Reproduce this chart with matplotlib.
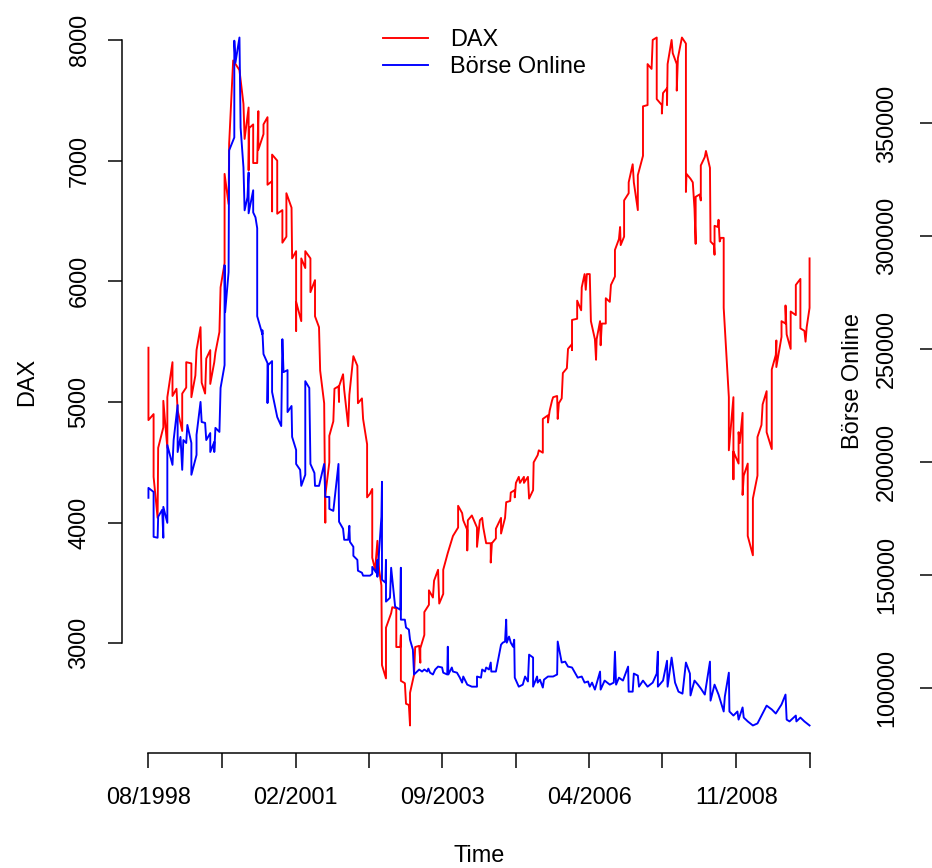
import matplotlib
matplotlib.use('Agg')
import matplotlib.pyplot as plt
from matplotlib.lines import Line2D

plt.rcParams['font.family'] = ['Liberation Sans', 'DejaVu Sans']

# DAX index (left axis), time in decimal years
dax_time = [
    1998.58, 1998.58, 1998.67, 1998.67, 1998.74, 1998.75, 1998.84, 1998.84, 1998.91, 1998.91,
    1999.00, 1999.00, 1999.07, 1999.09, 1999.17, 1999.17, 1999.24, 1999.24, 1999.33, 1999.33,
    1999.40, 1999.42, 1999.49, 1999.51, 1999.57, 1999.59, 1999.66, 1999.66, 1999.73, 1999.75,
    1999.82, 1999.84, 1999.91, 1999.91, 1999.98, 1999.99, 2000.06, 2000.17, 2000.24, 2000.26,
    2000.33, 2000.33, 2000.34, 2000.41, 2000.41, 2000.48, 2000.50, 2000.50, 2000.59, 2000.59,
    2000.66, 2000.66, 2000.74, 2000.74, 2000.74, 2000.83, 2000.83, 2000.92, 2000.92, 2000.99,
    2000.99, 2001.08, 2001.09, 2001.16, 2001.16, 2001.16, 2001.25, 2001.25, 2001.32, 2001.32,
    2001.41, 2001.41, 2001.49, 2001.49, 2001.56, 2001.58, 2001.65, 2001.67, 2001.67, 2001.74,
    2001.74, 2001.81, 2001.83, 2001.90, 2001.91, 2001.91, 2001.98, 2002.00, 2002.07, 2002.09,
    2002.16, 2002.23, 2002.24, 2002.31, 2002.33, 2002.40, 2002.40, 2002.45, 2002.49, 2002.49,
    2002.54, 2002.58, 2002.61, 2002.65, 2002.66, 2002.73, 2002.73, 2002.82, 2002.84, 2002.91,
    2002.91, 2002.98, 2002.99, 2002.99, 2003.06, 2003.08, 2003.13, 2003.15, 2003.15, 2003.22,
    2003.24, 2003.31, 2003.33, 2003.33, 2003.40, 2003.40, 2003.48, 2003.48, 2003.55, 2003.57,
    2003.64, 2003.66, 2003.73, 2003.73, 2003.81, 2003.90, 2003.99, 2003.99, 2004.06, 2004.08,
    2004.15, 2004.15, 2004.16, 2004.23, 2004.32, 2004.32, 2004.37, 2004.41, 2004.43, 2004.48,
    2004.56, 2004.56, 2004.58, 2004.65, 2004.65, 2004.74, 2004.74, 2004.81, 2004.83, 2004.90,
    2004.91, 2004.98, 2004.98, 2005.00, 2005.05, 2005.07, 2005.14, 2005.14, 2005.21, 2005.23,
    2005.30, 2005.31, 2005.38, 2005.40, 2005.47, 2005.47, 2005.56, 2005.56, 2005.59, 2005.63,
    2005.65, 2005.72, 2005.73, 2005.75, 2005.80, 2005.82, 2005.89, 2005.91, 2005.98, 2005.98,
    2005.98, 2006.07, 2006.07, 2006.14, 2006.15, 2006.20, 2006.22, 2006.24, 2006.29, 2006.31,
    2006.38, 2006.40, 2006.41, 2006.47, 2006.48, 2006.50, 2006.57, 2006.57, 2006.64, 2006.66,
    2006.73, 2006.73, 2006.80, 2006.82, 2006.83, 2006.89, 2006.89, 2006.97, 2006.97, 2007.04,
    2007.06, 2007.13, 2007.13, 2007.22, 2007.22, 2007.30, 2007.30, 2007.37, 2007.39, 2007.46,
    2007.46, 2007.55, 2007.55, 2007.57, 2007.64, 2007.64, 2007.65, 2007.72, 2007.74, 2007.81,
    2007.81, 2007.83, 2007.90, 2007.97, 2007.97, 2007.98, 2008.05, 2008.09, 2008.12, 2008.14,
    2008.14, 2008.21, 2008.23, 2008.23, 2008.30, 2008.32, 2008.39, 2008.40, 2008.46, 2008.47,
    2008.47, 2008.53, 2008.54, 2008.56, 2008.58, 2008.63, 2008.63, 2008.63, 2008.72, 2008.72,
    2008.80, 2008.80, 2008.80, 2008.89, 2008.89, 2008.91, 2008.96, 2008.96, 2008.98, 2009.05,
    2009.05, 2009.14, 2009.14, 2009.22, 2009.22, 2009.29, 2009.31, 2009.38, 2009.38, 2009.47,
    2009.47, 2009.54, 2009.55, 2009.55, 2009.64, 2009.64, 2009.71, 2009.71, 2009.73, 2009.80,
    2009.80, 2009.89, 2009.89, 2009.97, 2009.97, 2010.04, 2010.06, 2010.08, 2010.13, 2010.13,
]
dax_value = [
    5450, 4850, 4900, 4380, 4040, 4620, 4790, 5010, 4620, 5040,
    5330, 5050, 5110, 4930, 4760, 5070, 5120, 5330, 5320, 5040,
    5220, 5430, 5620, 5160, 5070, 5360, 5430, 5150, 5330, 5410,
    5580, 5950, 6150, 6890, 6640, 7140, 7830, 7750, 7470, 7180,
    7440, 6920, 7270, 7300, 6980, 6980, 7410, 7090, 7220, 7300,
    7360, 6800, 6830, 6580, 7050, 7000, 6560, 6590, 6320, 6370,
    6730, 6610, 6190, 6250, 5590, 5830, 5670, 6190, 6110, 6250,
    6190, 5910, 6010, 5710, 5620, 5260, 4990, 4000, 4230, 4500,
    4720, 4840, 5110, 5130, 5000, 5130, 5230, 5100, 4800, 5060,
    5380, 5300, 4990, 5030, 4860, 4650, 4210, 4240, 4280, 3710,
    3610, 3850, 3610, 3480, 2820, 2710, 3130, 3250, 3300, 3290,
    2970, 2970, 3070, 2690, 2670, 2500, 2490, 2320, 2590, 2740,
    2970, 2980, 2840, 2960, 3070, 3260, 3320, 3440, 3380, 3520,
    3610, 3330, 3410, 3610, 3750, 3890, 3960, 4140, 4080, 4020,
    3940, 3770, 4020, 4060, 3960, 3800, 4020, 4040, 3960, 3830,
    3830, 3670, 3830, 3870, 3950, 4040, 3910, 4040, 4170, 4180,
    4250, 4270, 4210, 4330, 4380, 4330, 4380, 4330, 4380, 4200,
    4270, 4500, 4560, 4600, 4580, 4860, 4890, 4830, 4930, 5010,
    5040, 5050, 4860, 4990, 5030, 5240, 5280, 5440, 5480, 5430,
    5680, 5690, 5840, 5760, 5950, 6060, 5930, 6060, 6060, 5670,
    5520, 5350, 5520, 5670, 5470, 5650, 5650, 5860, 5830, 5970,
    6040, 6260, 6350, 6450, 6300, 6370, 6670, 6730, 6820, 6970,
    6820, 6590, 6880, 7040, 7450, 7460, 7800, 7760, 8000, 8020,
    7510, 7460, 7390, 7560, 7600, 7460, 7800, 8000, 7890, 7800,
    7580, 7850, 8020, 7970, 6740, 6890, 6850, 6820, 6600, 6310,
    6700, 6720, 6670, 6960, 7030, 7080, 6940, 6330, 6300, 6220,
    6460, 6450, 6510, 6330, 6360, 6360, 5990, 5780, 5040, 4600,
    5040, 4360, 4590, 4490, 4750, 4660, 4910, 4230, 4390, 4490,
    3890, 3730, 4200, 4390, 4710, 4810, 4980, 5090, 4750, 4610,
    5270, 5390, 5510, 5290, 5540, 5670, 5650, 5800, 5560, 5440,
    5750, 5720, 5970, 6020, 5610, 5590, 5500, 5620, 5780, 6190,
]

# Boerse Online (right axis)
bo_time = [
    1998.58, 1998.58, 1998.67, 1998.67, 1998.74, 1998.75, 1998.82, 1998.84, 1998.84, 1998.91,
    1998.91, 1999.00, 1999.02, 1999.09, 1999.09, 1999.14, 1999.17, 1999.19, 1999.24, 1999.26,
    1999.33, 1999.33, 1999.42, 1999.42, 1999.49, 1999.51, 1999.57, 1999.59, 1999.66, 1999.66,
    1999.73, 1999.73, 1999.75, 1999.82, 1999.84, 1999.91, 1999.91, 1999.92, 1999.98, 1999.99,
    2000.08, 2000.08, 2000.10, 2000.17, 2000.19, 2000.24, 2000.26, 2000.31, 2000.33, 2000.33,
    2000.41, 2000.41, 2000.45, 2000.48, 2000.48, 2000.57, 2000.57, 2000.59, 2000.66, 2000.66,
    2000.67, 2000.74, 2000.74, 2000.83, 2000.90, 2000.92, 2000.94, 2001.01, 2001.01, 2001.08,
    2001.09, 2001.16, 2001.16, 2001.23, 2001.25, 2001.32, 2001.32, 2001.39, 2001.41, 2001.48,
    2001.49, 2001.56, 2001.65, 2001.67, 2001.74, 2001.74, 2001.81, 2001.90, 2001.91, 2001.98,
    2002.00, 2002.07, 2002.09, 2002.10, 2002.16, 2002.16, 2002.23, 2002.24, 2002.31, 2002.33,
    2002.45, 2002.49, 2002.49, 2002.56, 2002.58, 2002.58, 2002.65, 2002.66, 2002.66, 2002.72,
    2002.73, 2002.73, 2002.80, 2002.82, 2002.89, 2002.92, 2002.98, 2002.99, 2002.99, 2003.06,
    2003.08, 2003.13, 2003.15, 2003.20, 2003.22, 2003.31, 2003.36, 2003.40, 2003.45, 2003.47,
    2003.50, 2003.55, 2003.59, 2003.64, 2003.71, 2003.73, 2003.80, 2003.81, 2003.82, 2003.88,
    2003.90, 2003.97, 2004.02, 2004.06, 2004.08, 2004.15, 2004.23, 2004.32, 2004.32, 2004.39,
    2004.41, 2004.46, 2004.48, 2004.53, 2004.56, 2004.57, 2004.65, 2004.74, 2004.77, 2004.81,
    2004.83, 2004.84, 2004.88, 2004.91, 2004.95, 2004.97, 2004.98, 2005.05, 2005.12, 2005.16,
    2005.21, 2005.23, 2005.30, 2005.30, 2005.37, 2005.38, 2005.42, 2005.47, 2005.49, 2005.56,
    2005.65, 2005.72, 2005.73, 2005.80, 2005.86, 2005.91, 2005.98, 2006.03, 2006.08, 2006.15,
    2006.20, 2006.26, 2006.29, 2006.33, 2006.38, 2006.47, 2006.48, 2006.55, 2006.64, 2006.71,
    2006.73, 2006.75, 2006.80, 2006.87, 2006.96, 2006.97, 2007.04, 2007.06, 2007.13, 2007.15,
    2007.22, 2007.30, 2007.39, 2007.46, 2007.48, 2007.48, 2007.57, 2007.64, 2007.65, 2007.72,
    2007.78, 2007.84, 2007.91, 2007.97, 2008.04, 2008.05, 2008.12, 2008.18, 2008.23, 2008.30,
    2008.39, 2008.40, 2008.47, 2008.54, 2008.63, 2008.65, 2008.72, 2008.73, 2008.80, 2008.87,
    2008.89, 2008.96, 2008.98, 2009.05, 2009.14, 2009.22, 2009.29, 2009.38, 2009.47, 2009.54,
    2009.64, 2009.71, 2009.73, 2009.78, 2009.89, 2009.90, 2009.97, 2010.04, 2010.13,
]
bo_value = [
    184100, 188500, 186700, 166800, 166400, 175700, 178800, 166400, 180100, 173000,
    207500, 198700, 209700, 225200, 204400, 211100, 196500, 209700, 208400, 216400,
    208400, 194300, 203100, 212000, 226600, 217700, 217300, 209700, 212800, 204400,
    208900, 204400, 215100, 213300, 232800, 242900, 287200, 266400, 284100, 338100,
    343800, 386700, 377000, 388100, 348200, 330500, 311500, 317300, 328300, 310200,
    320400, 310600, 308400, 303600, 264600, 256600, 258400, 247800, 243800, 226100,
    242900, 244700, 231000, 219900, 215900, 254400, 239800, 240700, 222100, 224800,
    211100, 205300, 199100, 196500, 189400, 194300, 235800, 232800, 199100, 195100,
    189400, 189400, 199100, 184500, 184500, 179200, 178300, 199100, 173500, 170400,
    165500, 165500, 171700, 164600, 162400, 158400, 156600, 151800, 150900, 149600,
    149600, 150400, 153500, 150900, 156600, 149100, 175700, 191200, 147800, 146500,
    156600, 138100, 139800, 153100, 135800, 135400, 134500, 153100, 130100, 130100,
    126600, 125700, 121200, 116800, 105800, 108000, 107100, 108000, 107100, 108400,
    106600, 105800, 108000, 109300, 108900, 106600, 105800, 118100, 105800, 108900,
    107100, 106600, 104400, 102200, 104900, 101300, 100400, 100400, 104900, 104400,
    108000, 107100, 108900, 108000, 111100, 107100, 107100, 119000, 119900, 120400,
    130100, 119900, 122600, 119900, 118100, 121200, 104400, 100400, 101300, 104900,
    102700, 114600, 113300, 100400, 104900, 102200, 103500, 100000, 103500, 104900,
    104900, 105800, 120400, 111100, 111500, 109300, 108900, 106600, 104400, 104900,
    102200, 102700, 100400, 102200, 99100, 107100, 99100, 103100, 101300, 102200,
    115900, 101300, 104400, 103100, 109300, 98200, 98200, 106200, 105300, 100400,
    103100, 100400, 102200, 106200, 115900, 100400, 103100, 111900, 100400, 113300,
    102200, 98200, 97300, 111100, 106200, 96500, 103100, 101300, 99600, 96900,
    111500, 94200, 101300, 96900, 89400, 96000, 106600, 89400, 87600, 89400,
    85800, 91200, 86700, 85000, 83200, 84100, 87600, 92000, 90300, 88500,
    92500, 96900, 85800, 85000, 87600, 85000, 86700, 85000, 83200,
]

tick_pos = [1998.58, 1999.86, 2001.15, 2002.43, 2003.71, 2005.00, 2006.28, 2007.56, 2008.85, 2010.13]
tick_labels = ['08/1998', '', '02/2001', '', '09/2003', '', '04/2006', '', '11/2008', '']
dax_ticks = [3000, 4000, 5000, 6000, 7000, 8000]
bo_ticks = [100000, 150000, 200000, 250000, 300000, 350000]

FS = 23.5
LW = 1.9


def r_range(values):
    # R style axis range: data range widened by 4 % on each side
    lo, hi = min(values), max(values)
    pad = 0.04 * (hi - lo)
    return lo - pad, hi + pad


fig = plt.figure(figsize=(932 / 72, 868 / 72), dpi=72)
ax = fig.add_axes([122 / 932, 115 / 868, 714 / 932, 743 / 868])

ax.plot(dax_time, dax_value, color='#ff0000', lw=LW)
ax.set_xlim(r_range(dax_time + bo_time))
ax.set_ylim(r_range(dax_value))

for s in ['top', 'right']:
    ax.spines[s].set_visible(False)
ax.spines['left'].set_bounds(dax_ticks[0], dax_ticks[-1])
ax.spines['bottom'].set_bounds(tick_pos[0], tick_pos[-1])
ax.spines['left'].set_linewidth(1.5)
ax.spines['bottom'].set_linewidth(1.5)

ax.set_xticks(tick_pos, tick_labels)
ax.set_yticks(dax_ticks)
ax.tick_params(axis='both', direction='out', length=14.5, width=1.5, labelsize=FS)
ax.tick_params(axis='x', pad=20)
ax.tick_params(axis='y', pad=17)
for lab in ax.get_yticklabels():
    lab.set_rotation(90)
    lab.set_va('center')

ax.set_xlabel('Time', fontsize=FS)
ax.xaxis.set_label_coords(0.5, -0.1238)
ax.set_ylabel('DAX', fontsize=FS)
ax.yaxis.set_label_coords(-0.1176, 0.5)

ax2 = ax.twinx()
ax2.plot(bo_time, bo_value, color='#0000ff', lw=LW)
ax2.set_ylim(r_range(bo_value))
for s in ['top', 'left', 'bottom']:
    ax2.spines[s].set_visible(False)
ax2.spines['right'].set_position(('axes', 810 / 714))
ax2.spines['right'].set_visible(False)
ax2.set_yticks(bo_ticks)
ax2.tick_params(axis='y', direction='in', length=12, width=1.5, pad=-56, labelsize=FS)
for lab in ax2.get_yticklabels():
    lab.set_rotation(90)
    lab.set_va('center')
ax2.set_ylabel('Börse Online', fontsize=FS)
ax2.yaxis.set_label_coords(1.0084, 0.5)

handles = [Line2D([], [], color='#ff0000', lw=LW), Line2D([], [], color='#0000ff', lw=LW)]
fig.legend(handles, ['DAX', 'Börse Online'], loc='upper left',
           bbox_to_anchor=(383 / 932, 1 - 29 / 868), frameon=False, fontsize=FS,
           handlelength=45 / FS, handletextpad=22 / FS, labelspacing=0.22,
           borderpad=0, borderaxespad=0)

fig.savefig('out.png', dpi=72)
plt.close(fig)
